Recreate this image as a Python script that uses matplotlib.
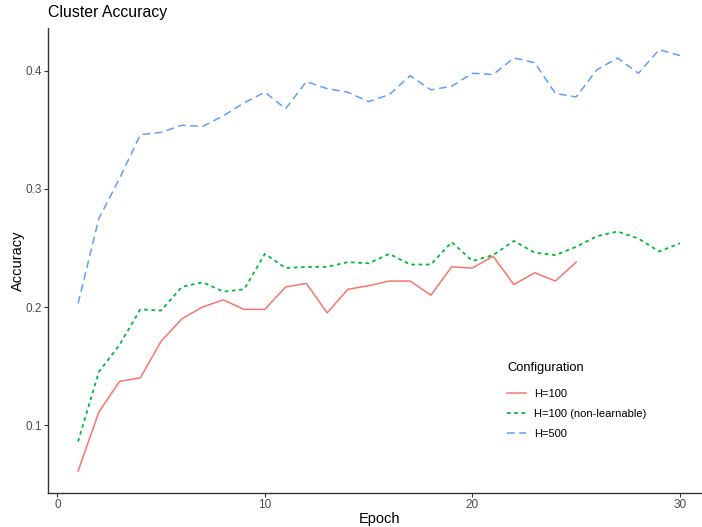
import numpy as np
import matplotlib
matplotlib.use('Agg')
import matplotlib.pyplot as plt

plt.rcParams['font.family'] = ['Liberation Sans', 'DejaVu Sans']

# values
epochs_h100 = list(range(1, 26))
acc_h100 = [0.061, 0.111, 0.137, 0.140, 0.171, 0.190, 0.200, 0.206, 0.198, 0.198,
            0.217, 0.220, 0.195, 0.215, 0.218, 0.222, 0.222, 0.210, 0.234, 0.233,
            0.243, 0.219, 0.229, 0.222, 0.238]

epochs_nl = list(range(1, 31))
acc_nl = [0.086, 0.145, 0.168, 0.198, 0.197, 0.217, 0.221, 0.213, 0.215, 0.245,
          0.233, 0.234, 0.234, 0.238, 0.237, 0.245, 0.236, 0.236, 0.255, 0.239,
          0.244, 0.256, 0.246, 0.244, 0.251, 0.260, 0.264, 0.258, 0.247, 0.254]

epochs_h500 = list(range(1, 31))
acc_h500 = [0.203, 0.275, 0.309, 0.346, 0.348, 0.354, 0.353, 0.362, 0.373, 0.382,
            0.368, 0.391, 0.385, 0.382, 0.374, 0.380, 0.396, 0.384, 0.387, 0.398,
            0.397, 0.411, 0.407, 0.381, 0.378, 0.401, 0.411, 0.398, 0.418, 0.413]

labels = ['H=100', 'H=100 (non-learnable)', 'H=500']
colors = ['#F8766D', '#00BA38', '#619CFF']

fig = plt.figure(figsize=(7.02, 5.27), dpi=100)
ax = fig.add_axes([48 / 702, 34 / 527, 662 / 702, 465 / 527])

ax.plot(epochs_h100, acc_h100, color=colors[0], lw=1.1, label=labels[0])
ax.plot(epochs_nl, acc_nl, color=colors[1], lw=1.3, linestyle=(0, (2, 2)), label=labels[1])
ax.plot(epochs_h500, acc_h500, color=colors[2], lw=1.1, linestyle=(0, (5, 3)), label=labels[2])

ax.set_xlim(-0.45, 31.45)
ax.set_ylim(0.0424, 0.4364)
ax.set_xticks([0, 10, 20, 30])
ax.set_yticks([0.1, 0.2, 0.3, 0.4])
ax.set_yticklabels(['0.1', '0.2', '0.3', '0.4'])

for side in ['top', 'right']:
    ax.spines[side].set_visible(False)
for side in ['left', 'bottom']:
    ax.spines[side].set_color('#333333')
    ax.spines[side].set_linewidth(1.0)
ax.tick_params(axis='both', length=3, width=0.8, color='#333333',
               labelsize=8.5, labelcolor='#4D4D4D', pad=1.5)

fig.text(380 / 702, 1 - 519 / 527, 'Epoch', fontsize=10.5, ha='center', va='center')
fig.text(18 / 702, 1 - 261 / 527, 'Accuracy', fontsize=10.5, ha='center', va='center',
         rotation=90)
fig.text(48 / 702, 1 - 13 / 527, 'Cluster Accuracy', fontsize=11.4, ha='left', va='center')

leg = ax.legend(title='Configuration', loc='upper left', bbox_to_anchor=(0.679, 0.304),
                frameon=False, fontsize=8, title_fontsize=9.3,
                handlelength=1.65, labelspacing=0.9, handletextpad=0.75)
leg._legend_box.align = 'left'
leg._legend_box.sep = 11

fig.savefig('out.png', dpi=100)
